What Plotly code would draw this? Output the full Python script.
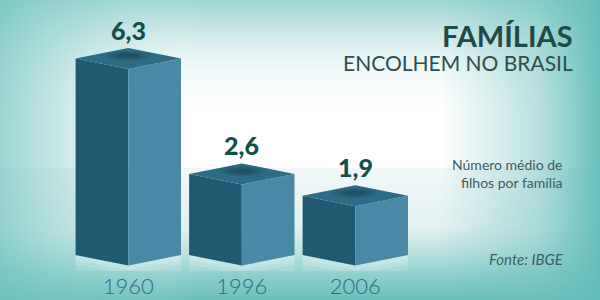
import base64
import plotly.graph_objects as go

# ---- data ----
years = ["1960", "1996", "2006"]
values = [6.3, 2.6, 1.9]
value_labels = ["6,3", "2,6", "1,9"]
title = "FAMÍLIAS"
subtitle = "ENCOLHEM NO BRASIL"
note = "Número médio de<br>filhos por família"
source = "Fonte: IBGE"

# ---- geometry / style ----
W, H = 600, 300
MB = 29                      # bottom margin (year labels live here)
PLOT_H = H - MB
PX_PER_X = 113.5
X0_PX = 128.3
PX_PER_Y = 31.2
ZERO_PY = 255.0
HALF_W = 52.7 / PX_PER_X     # half box width in x units
DEPTH = 10.5 / PX_PER_Y      # iso depth in y units

xr = [-X0_PX / PX_PER_X, (W - X0_PX) / PX_PER_X]
yr = [(ZERO_PY - PLOT_H) / PX_PER_Y, ZERO_PY / PX_PER_Y]

LEFT_C = "#1f5a72"
RIGHT_C = "#4a89a6"
TOP_C = "#2d6b87"

def px_x(px):
    return px / W

def py_y(py):
    return (PLOT_H - py) / PLOT_H

# ---- background (svg gradients) ----
svg = f"""<svg xmlns='http://www.w3.org/2000/svg' width='{W}' height='{H}' viewBox='0 0 {W} {H}' preserveAspectRatio='none'>
<defs>
<linearGradient id='top' x1='0' y1='0' x2='0' y2='1'>
<stop offset='0' stop-color='#86cbc8' stop-opacity='0.8'/>
<stop offset='0.5' stop-color='#a8dad8' stop-opacity='0.25'/>
<stop offset='1' stop-color='#ffffff' stop-opacity='0'/>
</linearGradient>
<linearGradient id='right' x1='0' y1='0' x2='1' y2='0'>
<stop offset='0' stop-color='#6bbfbd' stop-opacity='0'/>
<stop offset='0.6' stop-color='#6bbfbd' stop-opacity='0.45'/>
<stop offset='1' stop-color='#62bcba' stop-opacity='0.95'/>
</linearGradient>
<linearGradient id='left' x1='0' y1='0' x2='1' y2='0'>
<stop offset='0' stop-color='#6fc2bf' stop-opacity='0.7'/>
<stop offset='0.5' stop-color='#8fd0cd' stop-opacity='0.25'/>
<stop offset='1' stop-color='#ffffff' stop-opacity='0'/>
</linearGradient>
<linearGradient id='floor' x1='0' y1='0' x2='0' y2='1'>
<stop offset='0' stop-color='#d3e6e9' stop-opacity='0.3'/>
<stop offset='0.45' stop-color='#a6d6d6' stop-opacity='0.35'/>
<stop offset='0.8' stop-color='#6cc0bf' stop-opacity='0.75'/>
<stop offset='1' stop-color='#5ab7b5' stop-opacity='0.9'/>
</linearGradient>
</defs>
<rect x='0' y='0' width='{W}' height='{H}' fill='#ffffff'/>
<rect x='0' y='168' width='{W}' height='132' fill='url(#floor)'/>
<rect x='0' y='0' width='{W}' height='120' fill='url(#top)'/>
<rect x='440' y='0' width='160' height='{H}' fill='url(#right)'/>
<rect x='0' y='0' width='200' height='{H}' fill='url(#left)'/>
</svg>"""
bg_src = "data:image/svg+xml;base64," + base64.b64encode(svg.encode("utf-8")).decode("ascii")

fig = go.Figure()

shapes = []
for i, v in enumerate(values):
    c = i
    l, r = c - HALF_W, c + HALF_W
    # faint reflection under the box
    for h, op in [(0.5, 0.18), (0.3, 0.2), (0.15, 0.22)]:
        fig.add_trace(go.Scatter(
            x=[l, c, r, r, c, l, l], y=[0, -DEPTH, 0, -h, -DEPTH - h, -h, 0],
            fill="toself", fillcolor=f"rgba(230,242,246,{op})", mode="none",
            hoverinfo="skip", showlegend=False))
    # left face
    fig.add_trace(go.Scatter(
        x=[l, l, c, c, l], y=[0, v, v - DEPTH, -DEPTH, 0],
        fill="toself", fillcolor=LEFT_C, mode="none",
        hoverinfo="skip", showlegend=False))
    # right face
    fig.add_trace(go.Scatter(
        x=[c, c, r, r, c], y=[-DEPTH, v - DEPTH, v, 0, -DEPTH],
        fill="toself", fillcolor=RIGHT_C, mode="none",
        hoverinfo="skip", showlegend=False))
    # top face
    fig.add_trace(go.Scatter(
        x=[l, c, r, c, l], y=[v, v + DEPTH, v, v - DEPTH, v],
        fill="toself", fillcolor=TOP_C, mode="none",
        hoverinfo="skip", showlegend=False))
    # soft shadow on top face
    for sx, sy, op in [(0.20, 0.16, 0.12), (0.15, 0.12, 0.16), (0.10, 0.08, 0.22)]:
        cy = v + DEPTH * 0.25
        shapes.append(dict(type="circle", xref="x", yref="y",
                           x0=c - sx, x1=c + sx, y0=cy - sy, y1=cy + sy,
                           fillcolor=f"rgba(15,45,60,{op})", line=dict(width=0),
                           layer="above"))

annotations = []
for i, (v, lab) in enumerate(zip(values, value_labels)):
    annotations.append(dict(x=i, y=v + DEPTH, xref="x", yref="y", text=lab,
                            showarrow=False, yanchor="bottom", yshift=1,
                            font=dict(family="Lato", size=25, color="#124e4a", weight=900)))

annotations += [
    dict(x=px_x(575), y=py_y(35), xref="paper", yref="paper", text=title,
         showarrow=False, xanchor="right", yanchor="middle",
         font=dict(family="Lato", size=29, color="#1f4a48", weight=700)),
    dict(x=px_x(575), y=py_y(63), xref="paper", yref="paper", text=subtitle,
         showarrow=False, xanchor="right", yanchor="middle",
         font=dict(family="Lato", size=21, color="#2d4e4e")),
    dict(x=px_x(565), y=py_y(173), xref="paper", yref="paper", text=note,
         showarrow=False, xanchor="right", yanchor="middle", align="right",
         font=dict(family="Lato", size=14, color="#3b5c5c")),
    dict(x=px_x(566), y=py_y(259), xref="paper", yref="paper", text=f"<i>{source}</i>",
         showarrow=False, xanchor="right", yanchor="middle",
         font=dict(family="Lato", size=15, color="#3e5f66")),
]

fig.update_layout(
    width=W, height=H,
    margin=dict(l=0, r=0, t=0, b=MB, pad=0),
    paper_bgcolor="white", plot_bgcolor="rgba(0,0,0,0)",
    showlegend=False,
    shapes=shapes, annotations=annotations,
    images=[dict(source=bg_src, xref="paper", yref="paper", x=0, y=1,
                 sizex=1, sizey=H / PLOT_H, xanchor="left", yanchor="top",
                 sizing="stretch", layer="below")],
    xaxis=dict(range=xr, showgrid=False, zeroline=False, showline=False,
               tickvals=list(range(len(years))), ticktext=years, ticks="",
               ticklabelstandoff=0,
               tickfont=dict(family="Lato", size=22, color="#2b6b7d", weight=300),
               fixedrange=True),
    yaxis=dict(range=yr, visible=False, showgrid=False, zeroline=False, fixedrange=True),
)

fig.write_html("out.html", config={"displayModeBar": False})
